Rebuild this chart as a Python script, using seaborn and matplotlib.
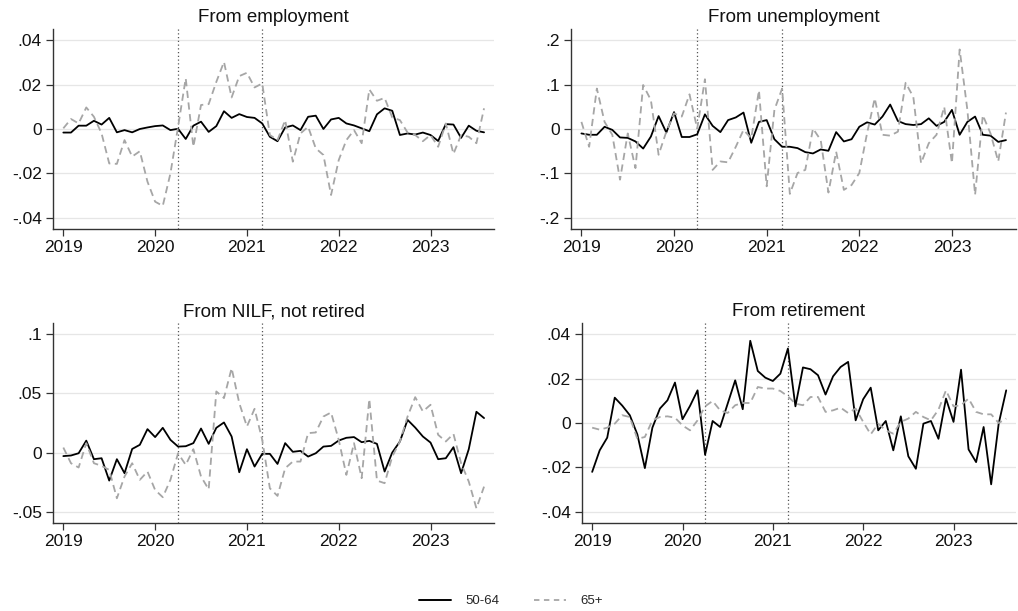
import numpy as np
import pandas as pd
import matplotlib
matplotlib.use("Agg")
import matplotlib.pyplot as plt
import matplotlib.ticker as mticker
import seaborn as sns

# Monthly series, Jan 2019 - Aug 2023
n_months = 56
years = [2019, 2020, 2021, 2022, 2023]
groups = ["50-64", "65+"]
panel_titles = ["From employment", "From unemployment",
                "From NILF, not retired", "From retirement"]

emp_5064 = [-0.0016, -0.0016, 0.0015, 0.0015, 0.0037, 0.002, 0.005, -0.0015, -0.0005, -0.0015,
            0.0, 0.0007, 0.0013, 0.0016, -0.0005, 0.0001, -0.0045, 0.0015, 0.0033, -0.0013,
            0.0013, 0.008, 0.005, 0.0067, 0.0054, 0.005, 0.0025, -0.0035, -0.0055, 0.0007,
            0.0016, -0.0005, 0.0055, 0.006, 0.0, 0.0043, 0.005, 0.0025, 0.0016, 0.0003,
            -0.001, 0.0066, 0.0093, 0.0082, -0.0027, -0.002, -0.0025, -0.0016, -0.0027, -0.0054,
            0.0022, 0.002, -0.004, 0.0015, -0.0008, -0.0015]
emp_65 = [0.0003, 0.0045, 0.0025, 0.0097, 0.0055, -0.002, -0.0155, -0.0157, -0.005, -0.0124,
          -0.010, -0.0237, -0.0327, -0.0346, -0.02, 0.001, 0.0228, -0.008, 0.0108, 0.0112,
          0.0212, 0.0302, 0.0142, 0.0238, 0.0253, 0.0187, 0.0205, -0.0027, -0.005, 0.004,
          -0.0147, -0.002, 0.001, -0.0087, -0.0117, -0.0297, -0.014, -0.005, -0.0005, -0.0064,
          0.0178, 0.0127, 0.014, 0.0052, 0.004, -0.0016, -0.0027, -0.0055, -0.0027, -0.008,
          0.0025, -0.0112, -0.0027, -0.0035, -0.0064, 0.0093]

unemp_5064 = [-0.01, -0.013, -0.013, 0.005, -0.002, -0.019, -0.02, -0.028, -0.044, -0.017,
              0.029, -0.008, 0.038, -0.018, -0.018, -0.012, 0.033, 0.007, -0.007, 0.02,
              0.026, 0.037, -0.031, 0.016, 0.02, -0.023, -0.04, -0.04, -0.043, -0.052,
              -0.055, -0.046, -0.049, -0.007, -0.028, -0.023, 0.005, 0.015, 0.01, 0.028,
              0.055, 0.018, 0.011, 0.009, 0.011, 0.024, 0.007, 0.016, 0.043, -0.013,
              0.016, 0.028, -0.013, -0.015, -0.029, -0.025]
unemp_65 = [0.016, -0.04, 0.091, 0.016, -0.013, -0.114, -0.01, -0.088, 0.099, 0.065,
            -0.058, -0.006, 0.035, 0.028, 0.078, 0.001, 0.112, -0.092, -0.073, -0.075,
            -0.04, -0.002, -0.021, 0.087, -0.129, 0.043, 0.091, -0.146, -0.099, -0.092,
            0.001, -0.025, -0.143, -0.051, -0.137, -0.126, -0.099, -0.01, 0.069, -0.013,
            -0.015, -0.006, 0.104, 0.072, -0.077, -0.032, -0.013, 0.05, -0.077, 0.179,
            0.043, -0.148, 0.031, -0.01, -0.073, 0.037]

nilf_5064 = [-0.003, -0.0025, -0.0006, 0.010, -0.0056, -0.0048, -0.0236, -0.0056, -0.0174, 0.003,
             0.0065, 0.0197, 0.013, 0.0208, 0.0107, 0.005, 0.0053, 0.0079, 0.0202, 0.0073,
             0.0208, 0.0253, 0.0135, -0.0166, 0.0028, -0.0118, -0.0011, -0.0011, -0.0096, 0.0079,
             0.0006, 0.0014, -0.0034, -0.0006, 0.005, 0.0056, 0.0101, 0.0124, 0.013, 0.0087,
             0.0098, 0.0073, -0.016, 0.0, 0.0093, 0.0275, 0.021, 0.0135, 0.0084, -0.0056,
             -0.0048, 0.0045, -0.0174, 0.0028, 0.0343, 0.029]
nilf_65 = [0.0042, -0.009, -0.0126, 0.0079, -0.009, -0.0112, -0.0146, -0.0385, -0.0202, -0.009,
           -0.023, -0.016, -0.0315, -0.0376, -0.023, -0.0006, -0.0104, 0.0028, -0.0202, -0.031,
           0.0514, 0.0458, 0.071, 0.0416, 0.0219, 0.0368, 0.0107, -0.0301, -0.0365, -0.0132,
           -0.0076, -0.0076, 0.0163, 0.0169, 0.0303, 0.0337, 0.0107, -0.0188, 0.0079, -0.0216,
           0.045, -0.0236, -0.0258, -0.0034, 0.0093, 0.0303, 0.0466, 0.0346, 0.0402, 0.0149,
           0.0093, 0.0157, -0.009, -0.0244, -0.0469, -0.0287]

ret_5064 = [-0.022, -0.0123, -0.0066, 0.0114, 0.0078, 0.0035, -0.0051, -0.0203, -0.0021, 0.0065,
            0.0102, 0.0182, 0.0017, 0.0077, 0.0147, -0.0143, 0.0009, -0.0018, 0.0087, 0.0192,
            0.0062, 0.037, 0.0234, 0.0204, 0.0189, 0.0222, 0.0335, 0.0075, 0.025, 0.0242,
            0.0215, 0.0128, 0.021, 0.0252, 0.0275, 0.0012, 0.0107, 0.0159, -0.0033, 0.0009,
            -0.0123, 0.003, -0.015, -0.0206, -0.0003, 0.0009, -0.0071, 0.011, 0.0005, 0.024,
            -0.0119, -0.0176, -0.0018, -0.0276, -0.0003, 0.0147]
ret_65 = [-0.0021, -0.003, -0.0021, -0.0003, 0.0035, 0.0027, -0.0071, -0.0063, 0.0012, 0.0027,
          0.003, 0.0024, -0.0011, -0.0033, 0.0012, 0.0075, 0.0099, 0.0057, 0.0045, 0.008,
          0.009, 0.009, 0.0162, 0.0155, 0.0155, 0.0144, 0.012, 0.0087, 0.008, 0.0117,
          0.0117, 0.005, 0.0057, 0.0069, 0.0045, 0.0065, 0.0005, -0.0051, -0.0003, -0.0033,
          -0.0048, 0.0005, 0.002, 0.005, 0.0027, 0.0012, 0.006, 0.0147, 0.0075, 0.008,
          0.011, 0.005, 0.0039, 0.0039, 0.0, 0.002]

# Policy markers: April 2020 and March 2021
event_dates = [2020 + 3 / 12, 2021 + 2 / 12]

panels = [
    (emp_5064, emp_65, [-0.04, -0.02, 0, 0.02, 0.04], (-0.045, 0.045)),
    (unemp_5064, unemp_65, [-0.2, -0.1, 0, 0.1, 0.2], (-0.225, 0.225)),
    (nilf_5064, nilf_65, [-0.05, 0, 0.05, 0.1], (-0.0593, 0.109)),
    (ret_5064, ret_65, [-0.04, -0.02, 0, 0.02, 0.04], (-0.045, 0.045)),
]

t = 2019 + np.arange(n_months) / 12.0

sns.set_theme(style="white")
plt.rcParams["font.family"] = ["Liberation Sans", "DejaVu Sans"]

W, H = 1018, 611
fig = plt.figure(figsize=(W / 100, H / 100), dpi=100)

# axes boxes in pixels: left, top, right, bottom
boxes = [(53, 29, 494, 229), (571, 29, 1016, 229),
         (53, 323, 494, 523), (582, 323, 1016, 523)]


def fmt(v, pos):
    if abs(v) < 1e-12:
        return "0"
    s = f"{v:g}"
    return s.replace("0.", ".")


palette = {"50-64": "black", "65+": "#a6a6a6"}
dashes = {"50-64": "", "65+": (4, 2.5)}

for (young, old, yt, ylim), title, (l, tp, r, b) in zip(panels, panel_titles, boxes):
    ax = fig.add_axes([l / W, 1 - b / H, (r - l) / W, (b - tp) / H])
    df = pd.DataFrame({
        "date": np.concatenate([t, t]),
        "value": np.concatenate([young, old]),
        "group": [groups[0]] * n_months + [groups[1]] * n_months,
    })
    ax.set_yticks(yt)
    for y in yt:
        ax.axhline(y, color="#e6e6e6", lw=0.9, zorder=0)
    for d in event_dates:
        ax.axvline(d, color="#555555", lw=0.9, ls=(0, (1, 2)), zorder=1)
    sns.lineplot(data=df, x="date", y="value", hue="group", style="group",
                 palette=palette, dashes=dashes, hue_order=groups, style_order=groups,
                 linewidth=1.3, ax=ax, legend=False, zorder=3)
    ax.set_xlim(2019 - 1.35 / 12, 2019 + 56.3 / 12)
    ax.set_ylim(*ylim)
    ax.set_xticks(years)
    ax.set_xticklabels([str(y) for y in years])
    ax.yaxis.set_major_formatter(mticker.FuncFormatter(fmt))
    ax.set_xlabel("")
    ax.set_ylabel("")
    ax.set_title(title, fontsize=13.5, pad=5, color="#111111")
    for s in ["top", "right"]:
        ax.spines[s].set_visible(False)
    for s in ["left", "bottom"]:
        ax.spines[s].set_color("#333333")
        ax.spines[s].set_linewidth(1.0)
    ax.tick_params(axis="both", which="major", direction="out", length=5, width=0.9,
                   color="#333333", labelsize=12.5, labelcolor="#111111", left=True, bottom=True,
                   pad=3)
    ax.grid(False)

handles = [plt.Line2D([], [], color="black", lw=1.4),
           plt.Line2D([], [], color="#a6a6a6", lw=1.3, ls=(0, (3, 2.5)))]
fig.legend(handles, groups, loc="center", bbox_to_anchor=(511 / W, 1 - 601 / H), ncol=2,
           frameon=False, fontsize=9.5, handlelength=2.4, columnspacing=2.6, handletextpad=1.1)

fig.savefig("out.png", dpi=100)
